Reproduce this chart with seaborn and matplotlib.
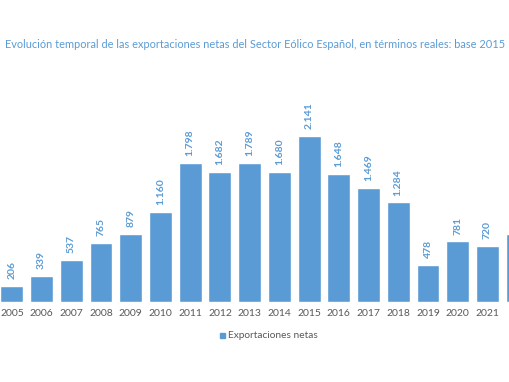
import matplotlib
matplotlib.use("Agg")
import matplotlib.pyplot as plt
import seaborn as sns
import pandas as pd

years = ["2005", "2006", "2007", "2008", "2009", "2010", "2011", "2012", "2013",
         "2014", "2015", "2016", "2017", "2018", "2019", "2020", "2021", "2022"]
values = [206, 339, 537, 765, 879, 1160, 1798, 1682, 1789, 1680, 2141, 1648,
          1469, 1284, 478, 781, 720, 873]
series_name = "Exportaciones netas"
title = "Evolución temporal de las exportaciones netas del Sector Eólico Español, en términos reales: base 2015"

BLUE = "#5B9BD5"
df = pd.DataFrame({"year": years, "value": values, "serie": series_name})

sns.set_theme(style="white")
plt.rcParams["font.family"] = ["Lato", "DejaVu Sans"]

fig = plt.figure(figsize=(5.10, 3.82), dpi=100)
ax = fig.add_axes([0, 80 / 382, 1, 302 / 382])

sns.barplot(data=df, x="year", y="value", hue="serie", palette=[BLUE],
            width=0.77, saturation=1, ax=ax, legend=False)

for c in ax.containers:
    ax.bar_label(c, labels=[f"{v:,}".replace(",", ".") for v in values],
                 rotation=90, padding=5, color=BLUE, fontsize=7.5,
                 fontweight="bold", clip_on=True)

ax.set_xlim(-0.40, 16.76)
ax.set_ylim(0, 302 / 0.07753)
ax.set_xlabel("")
ax.set_ylabel("")
ax.set_yticks([])
ax.tick_params(axis="x", length=0, pad=5, labelsize=7.5, labelcolor="#595959")
for s in ax.spines.values():
    s.set_visible(False)

fig.text(0.5, 1 - 45 / 382, title, ha="center", va="center",
         color=BLUE, fontsize=7.95)

# legend
fig.patches.append(plt.Rectangle((220 / 510, 1 - 338 / 382), 5 / 510, 5 / 382,
                                 transform=fig.transFigure, color=BLUE, figure=fig))
fig.text(228 / 510, 1 - 335 / 382, series_name, ha="left", va="center",
         color="#595959", fontsize=7.3)

fig.savefig("out.png", dpi=100)
